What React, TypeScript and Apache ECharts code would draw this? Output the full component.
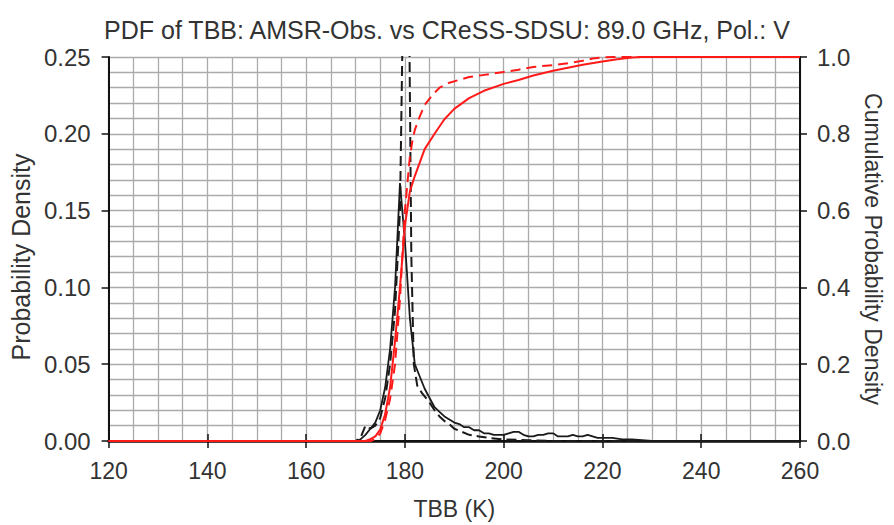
import React, { useEffect, useRef } from "react";
import * as echarts from "echarts";

// Observed PDF (black solid)
const obsPdfT = [120, 170, 171, 172, 173, 174, 175, 176, 177, 178, 179, 180, 181, 182, 183, 184, 185, 186, 187, 188, 189, 190, 191, 192, 193, 194, 195, 196, 197, 198, 199, 200, 201, 202, 203, 204, 205, 206, 207, 208, 209, 210, 211, 212, 213, 214, 215, 216, 217, 218, 219, 220, 222, 224, 226, 228, 230, 260];
const obsPdfV = [0, 0, 0.001, 0.004, 0.008, 0.012, 0.02, 0.035, 0.06, 0.1, 0.168, 0.13, 0.08, 0.05, 0.042, 0.034, 0.028, 0.022, 0.019, 0.016, 0.014, 0.012, 0.011, 0.009, 0.009, 0.007, 0.007, 0.005, 0.005, 0.004, 0.004, 0.004, 0.005, 0.006, 0.006, 0.004, 0.003, 0.003, 0.004, 0.004, 0.005, 0.005, 0.003, 0.003, 0.003, 0.004, 0.003, 0.003, 0.004, 0.003, 0.002, 0.002, 0.002, 0.001, 0.001, 0.0005, 0, 0];

// Model PDF (black dashed)
const modPdfT = [120, 170, 171, 172, 173, 174, 175, 176, 177, 178, 179, 179.5, 180, 180.8, 181.3, 181.8, 182.5, 183.5, 185, 186, 187, 188, 189, 190, 191.5, 193, 195, 197, 200, 205, 210, 260];
const modPdfV = [0, 0, 0.002, 0.01, 0.008, 0.01, 0.015, 0.028, 0.05, 0.085, 0.15, 0.26, 0.33, 0.3, 0.12, 0.05, 0.036, 0.031, 0.025, 0.02, 0.016, 0.013, 0.011, 0.008, 0.006, 0.004, 0.003, 0.002, 0.001, 0.0005, 0, 0];

// Observed CDF (red solid)
const obsCdfT = [120, 172, 173, 174, 175, 176, 177, 178, 179, 180, 181, 182, 183, 184, 186, 188, 190, 193, 196, 200, 203, 206, 210, 213, 216, 220, 223, 226, 228, 260];
const obsCdfV = [0, 0, 0.005, 0.012, 0.03, 0.07, 0.14, 0.26, 0.4, 0.56, 0.65, 0.69, 0.725, 0.76, 0.8, 0.838, 0.865, 0.893, 0.912, 0.93, 0.94, 0.952, 0.964, 0.972, 0.98, 0.988, 0.994, 0.999, 1, 1];

// Model CDF (red dashed)
const modCdfT = [120, 173, 174, 175, 176, 177, 178, 179, 180, 181, 181.5, 182, 183, 184, 185.5, 187, 189, 193, 197, 200, 203, 206, 210, 213, 216, 218, 220, 222, 260];
const modCdfV = [0, 0, 0.005, 0.02, 0.055, 0.11, 0.2, 0.37, 0.6, 0.74, 0.78, 0.81, 0.845, 0.875, 0.9, 0.92, 0.933, 0.948, 0.955, 0.961, 0.967, 0.974, 0.979, 0.984, 0.99, 0.996, 0.999, 1, 1];

const xTicks = [120, 140, 160, 180, 200, 220, 240, 260];
const leftTicks = [0, 0.05, 0.1, 0.15, 0.2, 0.25];
const rightTicks = [0, 0.2, 0.4, 0.6, 0.8, 1.0];

const zip = (a: number[], b: number[]) => a.map((x, i) => [x, b[i]]);

const FONT = "Liberation Sans";
const TXT = "#333";
const GRID = "#ababab";

export default function App() {
  const ref = useRef<HTMLDivElement>(null);
  useEffect(() => {
    if (!ref.current) return;
    const chart = echarts.init(ref.current, null, { renderer: "svg" });
    const tick = { show: true, inside: false, length: 7, lineStyle: { color: "#111", width: 1.5 } };
    chart.setOption({
      animation: false,
      backgroundColor: "#fff",
      title: {
        text: "PDF of TBB: AMSR-Obs. vs CReSS-SDSU: 89.0 GHz, Pol.: V",
        left: "center",
        top: 12,
        textStyle: { fontFamily: FONT, fontSize: 25, fontWeight: "normal", color: TXT },
      },
      grid: { left: 105, right: 94, top: 57, bottom: 81 },
      xAxis: [
        {
          type: "value",
          min: xTicks[0],
          max: xTicks[xTicks.length - 1],
          interval: 20,
          name: "TBB (K)",
          nameLocation: "middle",
          nameGap: 56,
          nameTextStyle: { fontFamily: FONT, fontSize: 23, color: TXT },
          axisLine: { show: true, lineStyle: { color: "#111", width: 2 } },
          axisTick: tick,
          axisLabel: {
            fontFamily: FONT,
            fontSize: 23,
            color: TXT,
            margin: 18,
            formatter: (v: number) => (xTicks.includes(v) ? String(v) : ""),
          },
          splitLine: { show: true, lineStyle: { color: GRID, width: 1.3 } },
          minorTick: { show: false, splitNumber: 4 },
          minorSplitLine: { show: true, lineStyle: { color: GRID, width: 1.3 } },
        },
        {
          type: "value",
          position: "top",
          min: xTicks[0],
          max: xTicks[xTicks.length - 1],
          interval: 20,
          axisLine: { show: true, lineStyle: { color: "#111", width: 2.5 } },
          axisTick: tick,
          axisLabel: { show: false },
          splitLine: { show: false },
        },
      ],
      yAxis: [
        {
          type: "value",
          min: leftTicks[0],
          max: leftTicks[leftTicks.length - 1],
          interval: 0.05,
          name: "Probability Density",
          nameLocation: "middle",
          nameGap: 70,
          nameTextStyle: { fontFamily: FONT, fontSize: 25, color: TXT, padding: [0, 16, 0, 0] },
          axisLine: { show: true, lineStyle: { color: "#111", width: 2 } },
          axisTick: tick,
          axisLabel: {
            fontFamily: FONT,
            fontSize: 24,
            color: TXT,
            margin: 18,
            formatter: (v: number) => v.toFixed(2),
          },
          splitLine: { show: true, lineStyle: { color: GRID, width: 1.3 } },
          minorTick: { show: false, splitNumber: 5 },
          minorSplitLine: { show: true, lineStyle: { color: GRID, width: 1.3 } },
        },
        {
          type: "value",
          position: "right",
          min: rightTicks[0],
          max: rightTicks[rightTicks.length - 1],
          interval: 0.2,
          name: "Cumulative Probability Density",
          nameLocation: "middle",
          nameRotate: -90,
          nameGap: 60,
          nameTextStyle: { fontFamily: FONT, fontSize: 23, color: TXT },
          axisLine: { show: true, lineStyle: { color: "#111", width: 2 } },
          axisTick: tick,
          axisLabel: {
            fontFamily: FONT,
            fontSize: 24,
            color: TXT,
            margin: 17,
            formatter: (v: number) => v.toFixed(1),
          },
          splitLine: { show: false },
        },
      ],
      series: [
        {
          type: "line",
          name: "Obs PDF",
          data: zip(obsPdfT, obsPdfV),
          xAxisIndex: 0,
          yAxisIndex: 0,
          showSymbol: false,
          symbol: "none",
          clip: true,
          lineStyle: { color: "#1a1a1a", width: 1.8 },
        },
        {
          type: "line",
          name: "Model PDF",
          data: zip(modPdfT, modPdfV),
          xAxisIndex: 0,
          yAxisIndex: 0,
          showSymbol: false,
          symbol: "none",
          clip: true,
          lineStyle: { color: "#1a1a1a", width: 2, type: [10, 5] },
        },
        {
          type: "line",
          name: "Obs CDF",
          data: zip(obsCdfT, obsCdfV),
          xAxisIndex: 0,
          yAxisIndex: 1,
          showSymbol: false,
          symbol: "none",
          clip: true,
          lineStyle: { color: "#ff1a1a", width: 2 },
        },
        {
          type: "line",
          name: "Model CDF",
          data: zip(modCdfT, modCdfV),
          xAxisIndex: 0,
          yAxisIndex: 1,
          showSymbol: false,
          symbol: "none",
          clip: true,
          lineStyle: { color: "#ff1a1a", width: 2, type: [10, 6] },
        },
      ],
    });
    return () => chart.dispose();
  }, []);
  return <div ref={ref} style={{ width: 894, height: 525, position: "absolute", left: 0, top: 0 }} />;
}
